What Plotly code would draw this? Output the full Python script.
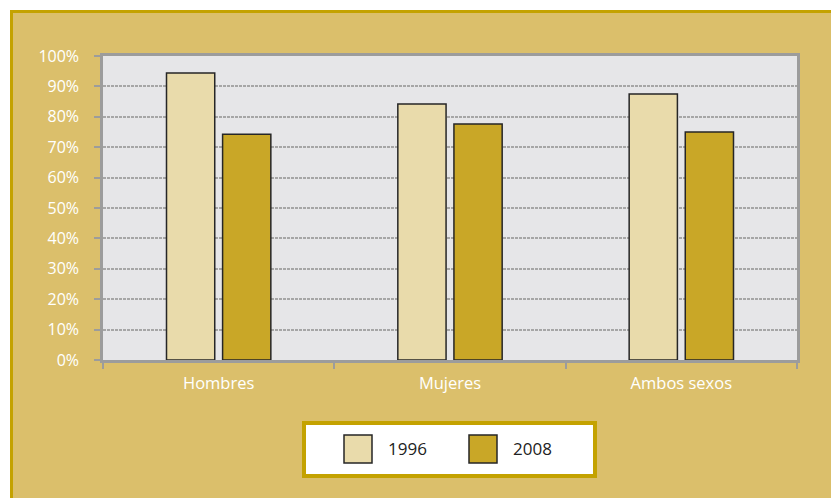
import plotly.graph_objects as go

categories = ["Hombres", "Mujeres", "Ambos sexos"]
years = ["1996", "2008"]
values_1996 = [94.4, 84.2, 87.5]
values_2008 = [74.3, 77.6, 75.0]
ytick_vals = [0, 10, 20, 30, 40, 50, 60, 70, 80, 90, 100]
ytick_text = ["0%", "10%", "20%", "30%", "40%", "50%", "60%", "70%", "80%", "90%", "100%"]

W, H = 839, 498
OFF = 8  # page body margin
SX0, SX1, SY0, SY1 = 103, 797, 56, 360
L = SX0 - OFF
R = W - (SX1 - OFF)
T = SY0 - OFF
B = H - (SY1 - OFF)
PW, PH = SX1 - SX0, SY1 - SY0

def px(x):
    return (x - SX0) / PW

def py(y):
    return (SY1 - y) / PH

BG = "#DBBF6B"
GOLD = "#C4A200"
C1996 = "#E9DBAB"
C2008 = "#C9A727"
OUTL = "#262626"
GRID = "#A6A6A6"
AXIS = "#9C9C9C"
FONT = "Open Sans"

fig = go.Figure()
fig.add_trace(go.Bar(x=categories, y=values_1996, name=years[0], marker=dict(color=C1996, line=dict(color=OUTL, width=1.5)), showlegend=False))
fig.add_trace(go.Bar(x=categories, y=values_2008, name=years[1], marker=dict(color=C2008, line=dict(color=OUTL, width=1.5)), showlegend=False))

shapes = [
    dict(type="rect", xref="paper", yref="paper", x0=px(11.5), y0=py(11.5), x1=px(900), y1=py(560),
         fillcolor=BG, line=dict(color=GOLD, width=3), layer="below"),
    dict(type="rect", xref="paper", yref="paper", x0=0, y0=0, x1=1, y1=1,
         fillcolor="#E6E6E8", line=dict(width=0), layer="below"),
    dict(type="rect", xref="paper", yref="paper", x0=px(304), y0=py(423), x1=px(595), y1=py(476),
         fillcolor="white", line=dict(color=GOLD, width=4), layer="above"),
    dict(type="rect", xref="paper", yref="paper", x0=px(344), y0=py(435), x1=px(372), y1=py(463),
         fillcolor=C1996, line=dict(color=OUTL, width=1.5), layer="above"),
    dict(type="rect", xref="paper", yref="paper", x0=px(469), y0=py(435), x1=px(497), y1=py(463),
         fillcolor=C2008, line=dict(color=OUTL, width=1.5), layer="above"),
]

annotations = [
    dict(xref="paper", yref="paper", x=px(386), y=py(449), text=years[0], showarrow=False,
         xanchor="left", yanchor="middle", font=dict(family=FONT, size=17, color="#222222")),
    dict(xref="paper", yref="paper", x=px(511), y=py(449), text=years[1], showarrow=False,
         xanchor="left", yanchor="middle", font=dict(family=FONT, size=17, color="#222222")),
]

fig.update_layout(
    width=W, height=H,
    margin=dict(l=L, r=R, t=T, b=B, pad=0),
    paper_bgcolor="white",
    plot_bgcolor="rgba(0,0,0,0)",
    barmode="group",
    bargap=0.515,
    bargroupgap=0.14,
    shapes=shapes,
    annotations=annotations,
    showlegend=False,
    xaxis=dict(
        showline=True, linecolor=AXIS, linewidth=2.5, mirror=True,
        ticks="outside", tickson="boundaries", ticklen=6, tickwidth=2, tickcolor=AXIS,
        tickfont=dict(family=FONT, size=16.5, color="white"),
        ticklabelstandoff=6,
        showgrid=False,
    ),
    yaxis=dict(
        range=[0, 100],
        tickvals=ytick_vals, ticktext=ytick_text,
        showline=True, linecolor=AXIS, linewidth=2.5, mirror=True,
        ticks="outside", ticklen=6, tickwidth=2, tickcolor=AXIS,
        tickfont=dict(family=FONT, size=16, color="white"),
        ticklabelstandoff=12,
        showgrid=True, gridcolor=GRID, gridwidth=1.5, griddash="3px,1px",
        zeroline=False,
    ),
)

fig.write_html("out.html")
